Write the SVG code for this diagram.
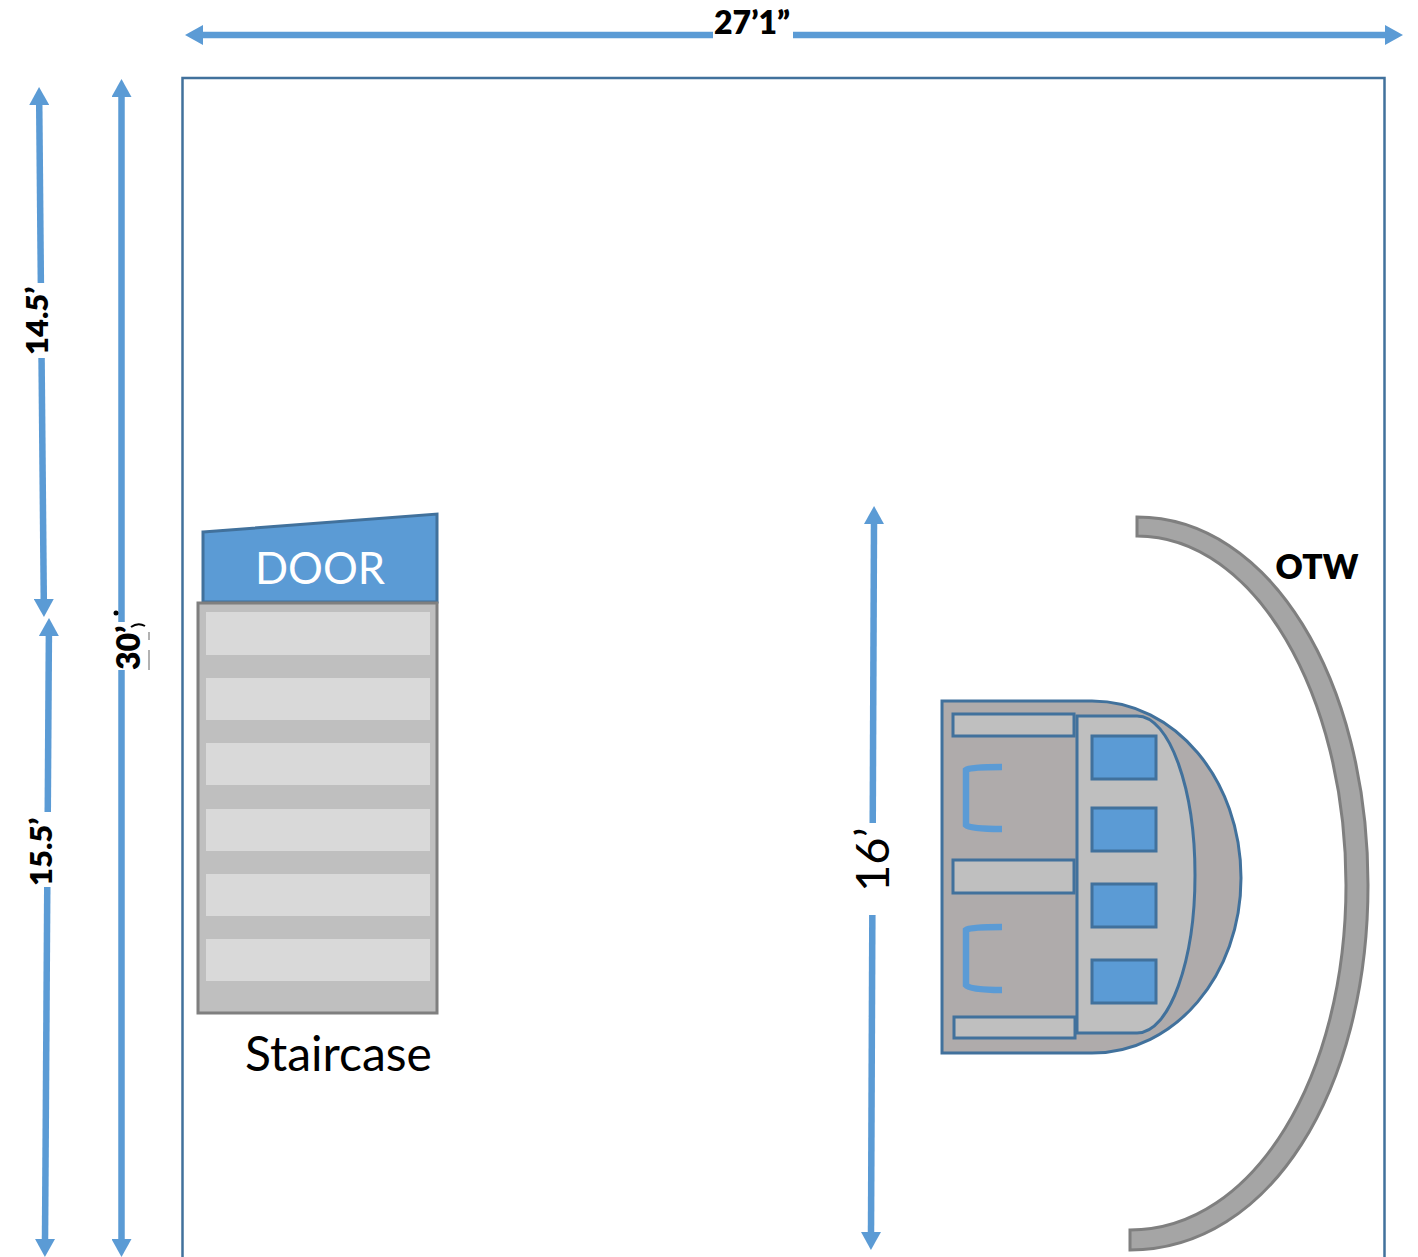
<svg xmlns="http://www.w3.org/2000/svg" width="1418" height="1257" viewBox="0 0 1418 1257">
<style>
text{font-family:Lato,"Liberation Sans",sans-serif;fill:#000}
.b{font-weight:800;font-size:32px}
.dim{stroke:#5b9bd5;stroke-width:6.500;fill:none;marker-start:url(#a);marker-end:url(#a)}
.blue{fill:#5b9bd5;stroke:#41719c;stroke-width:3}
.seat{fill:#bfbfbf;stroke:#41719c;stroke-width:3}
.step{fill:#d9d9d9}
.hook{fill:none;stroke:#5b9bd5;stroke-width:6.500}
</style>
<defs>
<marker id="a" viewBox="0 0 18 20" refX="2" refY="10" markerWidth="18" markerHeight="20" markerUnits="userSpaceOnUse" orient="auto-start-reverse"><path d="M0 0L18 10L0 20Z" fill="#5b9bd5"/></marker>
</defs>
<rect width="1418" height="1257" fill="#fff"/>
<rect id="room" x="182.500" y="78" width="1202" height="1200" fill="#fff" stroke="#41719c" stroke-width="2.500"/>
<g id="connectors">
<path class="dim" d="M201 35H1387"/>
<path class="dim" d="M39.200 103L43.800 601"/>
<path class="dim" d="M48.900 634L45 1241"/>
<path class="dim" d="M121.500 95V1241"/>
<path class="dim" d="M874 522L871 1234"/>
</g>
<g id="door"><path class="blue" d="M203 532L437 514V602H203Z"/><text x="320" y="584" text-anchor="middle" font-size="43.500" style="fill:#fff">DOOR</text></g>
<g id="staircase">
<rect x="198" y="603" width="239" height="410" fill="#bfbfbf" stroke="#7f7f7f" stroke-width="3"/>
<rect class="step" x="206" y="612" width="224" height="43"/>
<rect class="step" x="206" y="678" width="224" height="42"/>
<rect class="step" x="206" y="743" width="224" height="42"/>
<rect class="step" x="206" y="809" width="224" height="42"/>
<rect class="step" x="206" y="874" width="224" height="42"/>
<rect class="step" x="206" y="939" width="224" height="42"/>
<text x="245" y="1071" font-size="48">Staircase</text>
</g>
<g id="stage">
<path d="M942 701H1092C1175 701 1241 780 1241 878C1241 975 1175 1053 1092 1053H942Z" fill="#afabab" stroke="#41719c" stroke-width="3"/>
<path class="seat" d="M1077 716H1137C1170 716 1195 790 1195 875C1195 960 1170 1033 1137 1033H1077Z"/>
<rect class="seat" x="953" y="714" width="121" height="22"/>
<rect class="seat" x="953" y="860" width="121" height="33"/>
<rect class="seat" x="954" y="1017" width="121" height="21"/>
<rect class="blue" x="1092" y="736" width="64" height="43"/>
<rect class="blue" x="1092" y="808" width="64" height="43"/>
<rect class="blue" x="1092" y="884" width="64" height="43"/>
<rect class="blue" x="1092" y="960" width="64" height="43"/>
<path class="hook" d="M1002 767Q970 767 966 770V825Q970 829 1002 829"/>
<path class="hook" d="M1002 927Q970 927 966 930V985Q970 990 1002 990"/>
</g>
<g id="otw">
<path d="M1137 517C1270 517 1368 680 1368 885C1368 1090 1270 1250 1130 1250V1230C1255 1230 1346 1075 1346 885C1346 695 1255 536 1137 536Z" fill="#a5a5a5" stroke="#7f7f7f" stroke-width="3"/>
<text x="1317" y="579" class="b" text-anchor="middle" style="font-size:33.500px">OTW</text>
</g>
<g id="labels">
<rect x="713" y="20" width="80" height="30" fill="#fff"/>
<text x="752" y="34" class="b" text-anchor="middle">27’1”</text>
<rect x="25" y="283" width="30" height="75" fill="#fff"/>
<text transform="translate(48 355) rotate(-90)" class="b" style="font-size:31px">14.5’</text>
<rect x="27" y="812" width="30" height="75" fill="#fff"/>
<text transform="translate(52 886) rotate(-90)" class="b" style="font-size:31px">15.5’</text>
<rect x="114" y="622" width="34" height="48" fill="#fff"/>
<text transform="translate(140 670) rotate(-90)" class="b">30’</text>
<circle cx="116" cy="613" r="2.500"/>
<path d="M131 627Q138 622 145 626" fill="none" stroke="#000" stroke-width="2"/>
<path d="M149 632V640M149 650V670" fill="none" stroke="#999" stroke-width="1.500"/>
<rect x="852" y="823" width="44" height="92" fill="#fff"/>
<text transform="translate(889 892) rotate(-90)" font-size="47">16’</text>
</g>
</svg>
